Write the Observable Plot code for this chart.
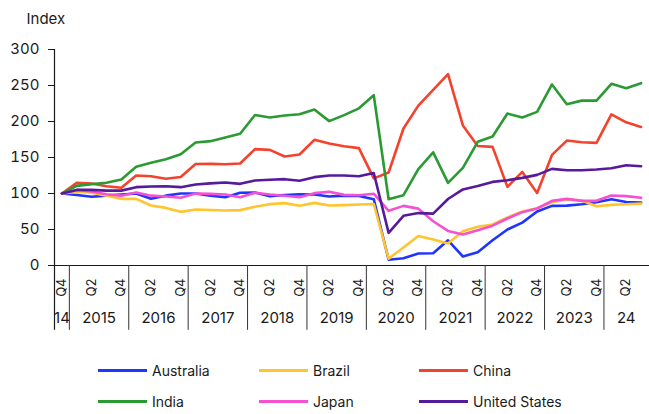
<!DOCTYPE html>
<html>
<head>
<meta charset="utf-8">
<script src="https://cdn.jsdelivr.net/npm/d3@7"></script>
<script src="https://cdn.jsdelivr.net/npm/@observablehq/plot@0.6"></script>
<style>
  html, body { margin: 0; padding: 0; background: #fff; }
  body { width: 649px; height: 414px; overflow: hidden; font-family: Inter, "Noto Sans", sans-serif; color: #1a1a1a; }
  #chart svg { display: block; }
  .legend { display: grid; grid-template-columns: 161px 160px 160px; grid-auto-rows: 31px; margin-left: 98px; margin-top: 10px; font-size: 14px; }
  .legend .item { display: flex; align-items: center; }
  .legend .sw { width: 49px; height: 3px; margin-right: 5px; }
</style>
</head>
<body>
<div id="chart"></div>
<div class="legend" id="legend"></div>
<script>
const quarters = [
  "2014 Q4",
  "2015 Q1","2015 Q2","2015 Q3","2015 Q4",
  "2016 Q1","2016 Q2","2016 Q3","2016 Q4",
  "2017 Q1","2017 Q2","2017 Q3","2017 Q4",
  "2018 Q1","2018 Q2","2018 Q3","2018 Q4",
  "2019 Q1","2019 Q2","2019 Q3","2019 Q4",
  "2020 Q1","2020 Q2","2020 Q3","2020 Q4",
  "2021 Q1","2021 Q2","2021 Q3","2021 Q4",
  "2022 Q1","2022 Q2","2022 Q3","2022 Q4",
  "2023 Q1","2023 Q2","2023 Q3","2023 Q4",
  "2024 Q1","2024 Q2","2024 Q3"
];
const yearLabels = { "2014": "14", "2024": "24" };

const countries = ["Australia", "Brazil", "China", "India", "Japan", "United States"];
const colors = ["#1f35ff", "#ffc42e", "#f4432c", "#2b9a33", "#f450d2", "#561a9c"];

const australia = [100, 98, 95.4, 97, 98.6, 100, 92.6, 97, 100, 100,
  97, 94.9, 101, 101.4, 96.3, 98, 99, 98.6, 95.8, 97,
  96.5, 92, 8, 10, 16.7, 17, 35, 12.5, 18.5, 35,
  50, 59.6, 75, 82.8, 83.2, 85.1, 87.8, 92, 88.3, 87.4];
const brazil = [100, 102, 101, 97, 92.6, 92.6, 83.3, 80, 74.5, 77.8,
  77, 76.4, 76.9, 81.5, 85.2, 86.6, 82.9, 87, 83.3, 83.8,
  84.7, 85.4, 9.5, 25, 41, 36, 30.6, 47.7, 53.7, 57,
  66.7, 74.9, 79.6, 87.9, 91.6, 90.2, 82.4, 84.2, 85.1, 86];
const china = [100, 114.8, 113.9, 110, 107.9, 125, 124, 120.4, 123, 141,
  141.2, 140.7, 141.7, 161.6, 160.6, 151.4, 154.2, 174.5, 169.4, 165.7,
  163, 121, 129.2, 190.3, 222, 244, 265.7, 194.5, 166, 164.7,
  109.2, 130, 100.8, 153.6, 173.5, 171.2, 170.3, 210, 198.9, 192.5];
const india = [100, 110.6, 113, 115, 119.4, 137, 142.6, 147.7, 154.6, 170.8,
  172.7, 177.8, 182.9, 209, 205.6, 208.3, 210, 216.7, 200.5, 208.8,
  218.3, 236.5, 92, 97.7, 134, 157.2, 114.8, 135.6, 171.8, 179.2,
  211, 205.5, 213.4, 251.4, 224, 229, 229, 252.3, 246.3, 253.2];
const japan = [100, 105, 102.8, 99, 97, 101.4, 97, 95.8, 94, 100,
  99.5, 98.6, 94.9, 101, 98.6, 96.8, 94.9, 100.5, 102.3, 98.1,
  97.6, 99.7, 75.9, 82.8, 79, 61.5, 48, 43, 49, 55.3,
  65.3, 74.1, 79.2, 89.8, 92.5, 89.8, 89.8, 97.2, 96.3, 94];
const unitedStates = [100, 105, 105, 104, 104, 108.8, 109.7, 110, 108.8, 112.5,
  114, 115.3, 113.4, 118, 119, 119.9, 117.6, 122.7, 125, 125,
  124, 128.5, 45.4, 69, 72.8, 72, 92.4, 105.7, 110.5, 116.1,
  118.5, 121.7, 125.9, 134.2, 132.3, 132.3, 133.3, 135.1, 139.3, 137.9];

const yTicks = [0, 50, 100, 150, 200, 250, 300];

const seriesValues = [australia, brazil, china, india, japan, unitedStates];
const data = [];
countries.forEach((c, k) => {
  seriesValues[k].forEach((v, i) => data.push({country: c, i, q: quarters[i], value: v}));
});

const qTicks = quarters.map((q, i) => ({i, label: q.split(" ")[1]}))
  .filter(d => d.label === "Q2" || d.label === "Q4");
const yearsList = Array.from(new Set(quarters.map(q => q.split(" ")[0])));
const yearData = yearsList.map(y => {
  const idx = quarters.map((q, i) => [q, i]).filter(([q]) => q.startsWith(y)).map(([, i]) => i);
  return {label: yearLabels[y] || y, center: d3.mean(idx)};
});
const separators = quarters.map((q, i) => ({q, i})).filter(d => d.q.endsWith("Q1")).map(d => d.i - 0.5);

const chart = Plot.plot({
  width: 649,
  height: 345,
  marginLeft: 54,
  marginRight: 1,
  marginTop: 49,
  marginBottom: 80,
  style: {fontFamily: "Inter, 'Noto Sans', sans-serif", color: "#1a1a1a", background: "#fff"},
  x: {type: "linear", domain: [-0.5, quarters.length - 0.5], axis: null},
  y: {domain: [0, 300], axis: null},
  color: {domain: countries, range: colors},
  marks: [
    Plot.axisY({ticks: yTicks, tickSize: 6, tickPadding: 9, fontSize: 15, label: null, stroke: "#1a1a1a"}),
    Plot.ruleY([0], {stroke: "#1a1a1a", strokeWidth: 1.2, insetRight: -1}),
    Plot.ruleX([-0.5], {y1: 300, y2: -90, stroke: "#1a1a1a", strokeWidth: 1.2}),
    Plot.ruleX(separators, {y1: 0, y2: -90, stroke: "#333", strokeWidth: 1}),
    Plot.text(qTicks, {x: "i", text: "label", frameAnchor: "bottom", dy: 13, rotate: -90, textAnchor: "end", lineAnchor: "middle", fontSize: 13, fill: "#1a1a1a"}),
    Plot.text(yearData, {x: "center", text: "label", frameAnchor: "bottom", dy: 57, fontSize: 15, fill: "#1a1a1a"}),
    Plot.text(["Index"], {frameAnchor: "top-left", dx: -28, dy: -36, textAnchor: "start", fontSize: 15, fill: "#1a1a1a"}),
    Plot.line(data, {x: "i", y: "value", z: "country", stroke: "country", strokeWidth: 2.6, strokeLinejoin: "round"})
  ]
});
document.getElementById("chart").appendChild(chart);

const legend = document.getElementById("legend");
countries.forEach((c, k) => {
  const item = document.createElement("div");
  item.className = "item";
  const sw = document.createElement("span");
  sw.className = "sw";
  sw.style.background = colors[k];
  const t = document.createElement("span");
  t.textContent = c;
  item.appendChild(sw);
  item.appendChild(t);
  legend.appendChild(item);
});
</script>
</body>
</html>
